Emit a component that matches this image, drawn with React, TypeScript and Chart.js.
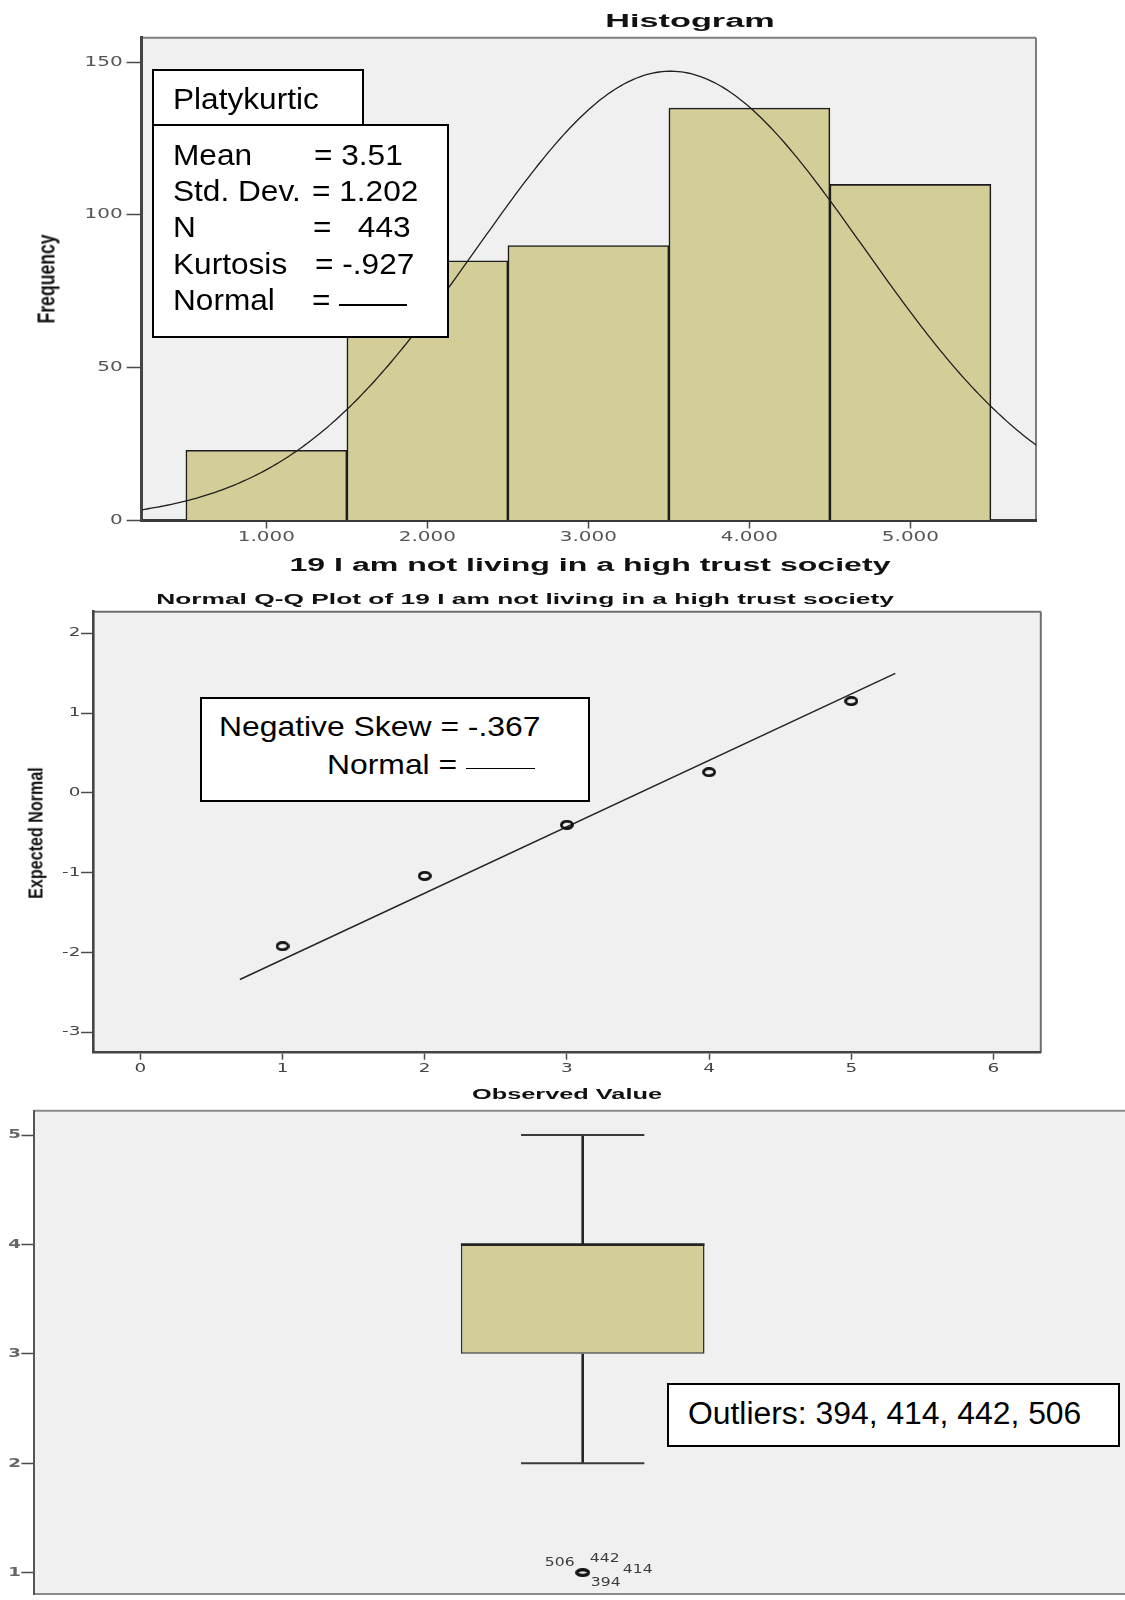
import React, { useEffect, useRef } from 'react';
import { Chart, registerables } from 'chart.js';

Chart.register(...registerables);

// ---- Histogram: 19 I am not living in a high trust society ----
const HIST_VALUES = [1, 2, 3, 4, 5];
const HIST_FREQUENCY = [23, 85, 90, 135, 110];
const HIST_X_TICKS = [1, 2, 3, 4, 5];
const HIST_Y_TICKS = [0, 50, 100, 150];
const HIST_X_RANGE = [0.225, 5.78];
const HIST_Y_RANGE = [0, 158];

// Descriptive statistics printed in the legends
const STAT_MEAN = 3.51;
const STAT_SD = 1.202;
const STAT_N = 443;
const STAT_KURTOSIS = -0.927;
const STAT_SKEW = -0.367;

// ---- Normal Q-Q plot ----
const QQ_OBSERVED = [1, 2, 3, 4, 5];
const QQ_EXPECTED = [-1.92, -1.04, -0.4, 0.26, 1.15];
const QQ_LINE_X = [0.7, 5.31];
const QQ_X_TICKS = [0, 1, 2, 3, 4, 5, 6];
const QQ_Y_TICKS = [-3, -2, -1, 0, 1, 2];
const QQ_X_RANGE = [-0.333, 6.333];
const QQ_Y_RANGE = [-3.255, 2.27];

// ---- Box plot ----
const BOX_LABELS = ['19 I am not living in a high trust society'];
const BOX_MIN = 2;
const BOX_Q1 = 3;
const BOX_MEDIAN = 4;
const BOX_Q3 = 4;
const BOX_MAX = 5;
const BOX_OUTLIER_VALUE = 1;
const BOX_OUTLIER_CASES = [394, 414, 442, 506];
const BOX_Y_TICKS = [1, 2, 3, 4, 5];
const BOX_Y_RANGE = [0.804, 5.223];

// ---- styling ----
const PLOT_FILL = '#f0f0f0';
const BAR_FILL = '#d3cd97';
const SANS = '"Liberation Sans", Arial, Helvetica, sans-serif';
const TICK_FAMILY = '"DejaVu Sans", Verdana, sans-serif';

// where the case numbers sit around the outlier marker (dx, dy in px)
const OUTLIER_LABEL_OFFSETS: Record<number, [number, number]> = {
  506: [-23, -10],
  442: [22, -13.5],
  414: [55, -2.7],
  394: [23, 10],
};

const spssNumber = (v: number, digits: number) =>
  v.toFixed(digits).replace(/^(-?)0\./, '$1.');

const normalDensity = (x: number) =>
  Math.exp(-0.5 * ((x - STAT_MEAN) / STAT_SD) ** 2) / (STAT_SD * Math.sqrt(2 * Math.PI));

function makeRing(w: number, h: number, lw: number): HTMLCanvasElement {
  const c = document.createElement('canvas');
  c.width = w;
  c.height = h;
  const g = c.getContext('2d')!;
  g.lineWidth = lw;
  g.strokeStyle = '#111';
  g.beginPath();
  g.ellipse(w / 2, h / 2, w / 2 - lw / 2, h / 2 - lw / 2, 0, 0, Math.PI * 2);
  g.stroke();
  return c;
}

// draws text widened horizontally around (x, y)
function wideText(ctx: CanvasRenderingContext2D, text: string, x: number, y: number, stretch: number) {
  ctx.save();
  ctx.translate(x, y);
  ctx.scale(stretch, 1);
  ctx.fillText(text, 0, 0);
  ctx.restore();
}

// Plot background, light top/right frame and widened tick labels
const framePlugin = {
  id: 'spssFrame',
  beforeDraw(chart: any, _args: any, opts: any) {
    const { ctx, chartArea: a } = chart;
    ctx.save();
    ctx.fillStyle = opts.fill;
    ctx.fillRect(a.left, a.top, a.right - a.left, a.bottom - a.top);
    ctx.strokeStyle = opts.edge;
    ctx.lineWidth = opts.edgeWidth;
    ctx.beginPath();
    if (opts.top) {
      ctx.moveTo(a.left, a.top);
      ctx.lineTo(a.right, a.top);
    }
    if (opts.right) {
      ctx.moveTo(a.right, a.top);
      ctx.lineTo(a.right, a.bottom);
    }
    if (opts.bottom) {
      ctx.moveTo(a.left, a.bottom);
      ctx.lineTo(a.right, a.bottom);
    }
    ctx.stroke();
    ctx.restore();
  },
  afterDraw(chart: any, _args: any, opts: any) {
    const { ctx, chartArea: a } = chart;
    const labels = opts.labels || {};
    ['x', 'y'].forEach((id) => {
      const cfg = labels[id];
      const scale = chart.scales[id];
      if (!cfg || !scale) return;
      ctx.save();
      ctx.font = cfg.font;
      ctx.fillStyle = cfg.color;
      ctx.textBaseline = 'middle';
      ctx.textAlign = id === 'x' ? 'center' : 'right';
      scale.ticks.forEach((t: any) => {
        const p = scale.getPixelForValue(t.value);
        const text = Number(t.value).toFixed(cfg.digits || 0);
        if (id === 'x') wideText(ctx, text, p, a.bottom + cfg.gap, cfg.stretch);
        else wideText(ctx, text, a.left - cfg.gap, p, cfg.stretch);
      });
      ctx.restore();
    });
  },
};

// Whiskers, caps, median and case labels for the box plot
const whiskerPlugin = {
  id: 'boxWhiskers',
  afterDatasetsDraw(chart: any) {
    const { ctx } = chart;
    const bar = chart.getDatasetMeta(0).data[0];
    const y = chart.scales.y;
    if (!bar) return;
    const cx = bar.x;
    const capHalf = bar.width * 0.253;
    const yMax = y.getPixelForValue(BOX_MAX);
    const yMin = y.getPixelForValue(BOX_MIN);
    const yQ1 = y.getPixelForValue(BOX_Q1);
    const yQ3 = y.getPixelForValue(BOX_Q3);
    const yMed = y.getPixelForValue(BOX_MEDIAN);
    const seg = (x1: number, y1: number, x2: number, y2: number) => {
      ctx.beginPath();
      ctx.moveTo(x1, y1);
      ctx.lineTo(x2, y2);
      ctx.stroke();
    };
    ctx.save();
    ctx.strokeStyle = '#262626';
    ctx.lineWidth = 2.6;
    seg(cx, yQ3, cx, yMax);
    seg(cx, yQ1, cx, yMin);
    ctx.strokeStyle = '#3a3a3a';
    ctx.lineWidth = 2;
    seg(cx - capHalf, yMax, cx + capHalf, yMax);
    seg(cx - capHalf, yMin, cx + capHalf, yMin);
    ctx.strokeStyle = '#222';
    ctx.lineWidth = 2.4;
    seg(cx - bar.width / 2, yMed, cx + bar.width / 2, yMed);

    const pt = chart.getDatasetMeta(1).data[0];
    if (pt) {
      ctx.fillStyle = '#3c3c3c';
      ctx.font = `12px ${TICK_FAMILY}`;
      ctx.textAlign = 'center';
      ctx.textBaseline = 'middle';
      BOX_OUTLIER_CASES.forEach((id) => {
        const [dx, dy] = OUTLIER_LABEL_OFFSETS[id] || [0, 0];
        wideText(ctx, String(id), pt.x + dx, pt.y + dy, 1.3);
      });
    }
    ctx.restore();
  },
};

const tickGrid = (len: number) => ({
  drawOnChartArea: false,
  drawTicks: true,
  tickLength: len,
  tickColor: '#4a4a4a',
  tickWidth: 1.5,
  offset: false,
});

const hiddenLabels = { display: false, autoSkip: false, maxRotation: 0 };

function buildHistogram(canvas: HTMLCanvasElement): Chart {
  const binWidth = HIST_VALUES[1] - HIST_VALUES[0];
  const curve: { x: number; y: number }[] = [];
  const steps = 280;
  for (let i = 0; i <= steps; i++) {
    const x = HIST_X_RANGE[0] + ((HIST_X_RANGE[1] - HIST_X_RANGE[0]) * i) / steps;
    curve.push({ x, y: STAT_N * binWidth * normalDensity(x) });
  }
  return new Chart(canvas, {
    type: 'bar',
    data: {
      datasets: [
        {
          type: 'line',
          label: 'Normal',
          data: curve,
          borderColor: '#1f1f1f',
          borderWidth: 1.3,
          pointRadius: 0,
          tension: 0,
          order: 0,
        } as any,
        {
          type: 'bar',
          label: 'Frequency',
          data: HIST_VALUES.map((x, i) => ({ x, y: HIST_FREQUENCY[i] })),
          backgroundColor: BAR_FILL,
          borderColor: '#1c1c1c',
          borderWidth: 1.6,
          barPercentage: 1,
          categoryPercentage: 1,
          order: 1,
        } as any,
      ],
    },
    options: {
      animation: false,
      responsive: true,
      maintainAspectRatio: false,
      events: [],
      layout: { padding: { top: 37.7, right: 89, left: 0, bottom: 0 } },
      plugins: {
        legend: { display: false },
        tooltip: { enabled: false },
        spssFrame: {
          fill: PLOT_FILL,
          edge: '#7d7d7d',
          edgeWidth: 2,
          top: true,
          right: true,
          labels: {
            x: { font: `13.5px ${TICK_FAMILY}`, color: '#555', stretch: 1.48, gap: 16.8, digits: 3 },
            y: { font: `13.5px ${TICK_FAMILY}`, color: '#555', stretch: 1.48, gap: 19, digits: 0 },
          },
        },
      } as any,
      scales: {
        x: {
          type: 'linear',
          min: HIST_X_RANGE[0],
          max: HIST_X_RANGE[1],
          offset: false,
          afterBuildTicks: (s: any) => {
            s.ticks = HIST_X_TICKS.map((value) => ({ value }));
          },
          afterFit: (s: any) => {
            s.height = 59.5;
          },
          grid: tickGrid(8),
          border: { display: true, color: '#3a3a3a', width: 3 },
          ticks: hiddenLabels,
        },
        y: {
          type: 'linear',
          min: HIST_Y_RANGE[0],
          max: HIST_Y_RANGE[1],
          afterBuildTicks: (s: any) => {
            s.ticks = HIST_Y_TICKS.map((value) => ({ value }));
          },
          afterFit: (s: any) => {
            s.width = 141.6;
          },
          grid: tickGrid(15),
          border: { display: true, color: '#444', width: 3 },
          ticks: hiddenLabels,
        },
      } as any,
    },
    plugins: [framePlugin as any],
  });
}

function buildQQ(canvas: HTMLCanvasElement): Chart {
  const ring = makeRing(14, 10, 2.8);
  return new Chart(canvas, {
    type: 'scatter',
    data: {
      datasets: [
        {
          type: 'line',
          label: 'Normal',
          data: QQ_LINE_X.map((x) => ({ x, y: (x - STAT_MEAN) / STAT_SD })),
          borderColor: '#262626',
          borderWidth: 1.6,
          pointRadius: 0,
          order: 1,
        } as any,
        {
          type: 'scatter',
          label: 'Observed',
          data: QQ_OBSERVED.map((x, i) => ({ x, y: QQ_EXPECTED[i] })),
          pointStyle: ring,
          pointRadius: 5,
          order: 0,
        } as any,
      ],
    },
    options: {
      animation: false,
      responsive: true,
      maintainAspectRatio: false,
      events: [],
      layout: { padding: { top: 11.7, right: 84.2, left: 0, bottom: 0 } },
      plugins: {
        legend: { display: false },
        tooltip: { enabled: false },
        spssFrame: {
          fill: PLOT_FILL,
          edge: '#6e6e6e',
          edgeWidth: 2,
          top: true,
          right: true,
          labels: {
            x: { font: `11.5px ${TICK_FAMILY}`, color: '#444', stretch: 1.6, gap: 16.3, digits: 0 },
            y: { font: `11.5px ${TICK_FAMILY}`, color: '#444', stretch: 1.6, gap: 12.6, digits: 0 },
          },
        },
      } as any,
      scales: {
        x: {
          type: 'linear',
          min: QQ_X_RANGE[0],
          max: QQ_X_RANGE[1],
          afterBuildTicks: (s: any) => {
            s.ticks = QQ_X_TICKS.map((value) => ({ value }));
          },
          afterFit: (s: any) => {
            s.height = 27.3;
          },
          grid: tickGrid(7),
          border: { display: true, color: '#444', width: 2.6 },
          ticks: hiddenLabels,
        },
        y: {
          type: 'linear',
          min: QQ_Y_RANGE[0],
          max: QQ_Y_RANGE[1],
          afterBuildTicks: (s: any) => {
            s.ticks = QQ_Y_TICKS.map((value) => ({ value }));
          },
          afterFit: (s: any) => {
            s.width = 93;
          },
          grid: tickGrid(12),
          border: { display: true, color: '#444', width: 2.6 },
          ticks: hiddenLabels,
        },
      } as any,
    },
    plugins: [framePlugin as any],
  });
}

function buildBox(canvas: HTMLCanvasElement): Chart {
  const ring = makeRing(15, 9, 3.2);
  return new Chart(canvas, {
    type: 'bar',
    data: {
      labels: BOX_LABELS,
      datasets: [
        {
          type: 'bar',
          label: 'Box',
          data: [[BOX_Q1, BOX_Q3]],
          backgroundColor: BAR_FILL,
          borderColor: '#333',
          borderWidth: 1.6,
          borderSkipped: false,
          barPercentage: 0.2222,
          categoryPercentage: 1,
        } as any,
        {
          type: 'line',
          label: 'Outliers',
          data: [{ x: BOX_LABELS[0], y: BOX_OUTLIER_VALUE }],
          showLine: false,
          pointStyle: ring,
          pointRadius: 5,
        } as any,
      ],
    },
    options: {
      animation: false,
      responsive: true,
      maintainAspectRatio: false,
      events: [],
      layout: { padding: { top: 10.7, right: 0, left: 0, bottom: 1.7 } },
      plugins: {
        legend: { display: false },
        tooltip: { enabled: false },
        spssFrame: {
          fill: PLOT_FILL,
          edge: '#8a8a8a',
          edgeWidth: 2,
          top: true,
          bottom: true,
          labels: {
            y: { font: `bold 13px ${TICK_FAMILY}`, color: '#666', stretch: 1.4, gap: 13.4, digits: 0 },
          },
        },
      } as any,
      scales: {
        x: { type: 'category', display: false, offset: true },
        y: {
          type: 'linear',
          min: BOX_Y_RANGE[0],
          max: BOX_Y_RANGE[1],
          afterBuildTicks: (s: any) => {
            s.ticks = BOX_Y_TICKS.map((value) => ({ value }));
          },
          afterFit: (s: any) => {
            s.width = 34.4;
          },
          grid: tickGrid(13),
          border: { display: true, color: '#555', width: 2 },
          ticks: hiddenLabels,
        },
      } as any,
    },
    plugins: [framePlugin as any, whiskerPlugin as any],
  });
}

function Panel({ top, width, height, build }: { top: number; width: number; height: number; build: (c: HTMLCanvasElement) => Chart }) {
  const ref = useRef<HTMLCanvasElement | null>(null);
  useEffect(() => {
    if (!ref.current) return;
    const chart = build(ref.current);
    return () => chart.destroy();
  }, [build]);
  return (
    <div style={{ position: 'absolute', left: 0, top, width, height }}>
      <canvas ref={ref} />
    </div>
  );
}

let measureCtx: CanvasRenderingContext2D | null = null;
function measureBold(text: string, size: number): number {
  if (!measureCtx) measureCtx = document.createElement('canvas').getContext('2d');
  measureCtx!.font = `bold ${size}px ${SANS}`;
  return measureCtx!.measureText(text).width;
}

// Bold chart/axis titles, widened (or narrowed) to the chart's proportions
function Title({ text, cx, cy, width, size, vertical = false }: { text: string; cx: number; cy: number; width: number; size: number; vertical?: boolean }) {
  const k = width / measureBold(text, size);
  const transform = vertical
    ? `translate(-50%, -50%) rotate(-90deg) scaleX(${k})`
    : `translate(-50%, -50%) scaleX(${k})`;
  return (
    <div
      style={{
        position: 'absolute',
        left: cx,
        top: cy,
        fontFamily: SANS,
        fontWeight: 'bold',
        fontSize: size,
        lineHeight: 1,
        whiteSpace: 'nowrap',
        color: '#111',
        transform,
      }}
    >
      {text}
    </div>
  );
}

function Frame({ left, top, right, bottom }: { left: number; top: number; right: number; bottom: number }) {
  return (
    <div
      style={{
        position: 'absolute',
        left,
        top,
        width: right - left,
        height: bottom - top,
        border: '2px solid #000',
        background: '#fff',
        boxSizing: 'border-box',
      }}
    />
  );
}

function Text({ x, baseline, size, stretch, children }: { x: number; baseline: number; size: number; stretch: number; children: React.ReactNode }) {
  return (
    <div
      style={{
        position: 'absolute',
        left: x,
        top: baseline - 0.8465 * size,
        fontFamily: SANS,
        fontSize: size,
        lineHeight: 1,
        whiteSpace: 'pre',
        color: '#000',
        transform: `scaleX(${stretch})`,
        transformOrigin: 'left center',
      }}
    >
      {children}
    </div>
  );
}

function Rule({ x1, x2, y }: { x1: number; x2: number; y: number }) {
  return <div style={{ position: 'absolute', left: x1, top: y - 0.8, width: x2 - x1, height: 1.6, background: '#000' }} />;
}

export default function App() {
  const statRows: { label: string; eqX: number; value: string; baseline: number }[] = [
    { label: 'Mean', eqX: 313.6, value: '= ' + STAT_MEAN.toFixed(2), baseline: 166 },
    { label: 'Std. Dev.', eqX: 312, value: '= ' + STAT_SD.toFixed(3), baseline: 202 },
    { label: 'N', eqX: 312.6, value: '=   ' + String(STAT_N), baseline: 238 },
    { label: 'Kurtosis', eqX: 314.6, value: '= ' + spssNumber(STAT_KURTOSIS, 3), baseline: 274.5 },
    { label: 'Normal', eqX: 312, value: '=', baseline: 310.5 },
  ];

  return (
    <div style={{ position: 'absolute', left: 0, top: 0, width: 1125, height: 1600, overflow: 'hidden', background: '#fff' }}>
      <Panel top={0} width={1125} height={580} build={buildHistogram} />
      <Panel top={600} width={1125} height={480} build={buildQQ} />
      <Panel top={1100} width={1137} height={500} build={buildBox} />

      {/* histogram titles */}
      <Title text="Histogram" cx={690.3} cy={21} width={169.4} size={18} />
      <Title text="19 I am not living in a high trust society" cx={589.5} cy={564.5} width={601} size={18} />
      <Title text="Frequency" cx={46.5} cy={278.5} width={89} size={23} vertical />

      {/* histogram legend */}
      <Frame left={152.3} top={69.3} right={363.7} bottom={126.2} />
      <Frame left={152.3} top={124.2} right={449} bottom={338.3} />
      <Text x={173} baseline={109.3} size={29} stretch={1.09}>Platykurtic</Text>
      {statRows.map((r) => (
        <React.Fragment key={r.label}>
          <Text x={173} baseline={r.baseline} size={29} stretch={1.09}>{r.label}</Text>
          <Text x={r.eqX} baseline={r.baseline} size={29} stretch={1.09}>{r.value}</Text>
        </React.Fragment>
      ))}
      <Rule x1={339.3} x2={406.7} y={305} />

      {/* Q-Q plot titles */}
      <Title text="Normal Q-Q Plot of 19 I am not living in a high trust society" cx={525} cy={598.5} width={737.7} size={15.5} />
      <Title text="Observed Value" cx={566.5} cy={1093.5} width={190} size={15.5} />
      <Title text="Expected Normal" cx={35} cy={832.5} width={131.6} size={21} vertical />

      {/* Q-Q legend */}
      <Frame left={199.8} top={696.7} right={590.5} bottom={801.7} />
      <Text x={219} baseline={736.7} size={28} stretch={1.138}>{'Negative Skew = ' + spssNumber(STAT_SKEW, 3)}</Text>
      <Text x={327} baseline={775} size={28} stretch={1.138}>{'Normal ='}</Text>
      <Rule x1={466} x2={534.6} y={768.3} />

      {/* box plot note */}
      <Frame left={667.4} top={1382.7} right={1119.8} bottom={1446.7} />
      <Text x={687.8} baseline={1424} size={31} stretch={1.028}>{'Outliers: ' + BOX_OUTLIER_CASES.join(', ')}</Text>
    </div>
  );
}
